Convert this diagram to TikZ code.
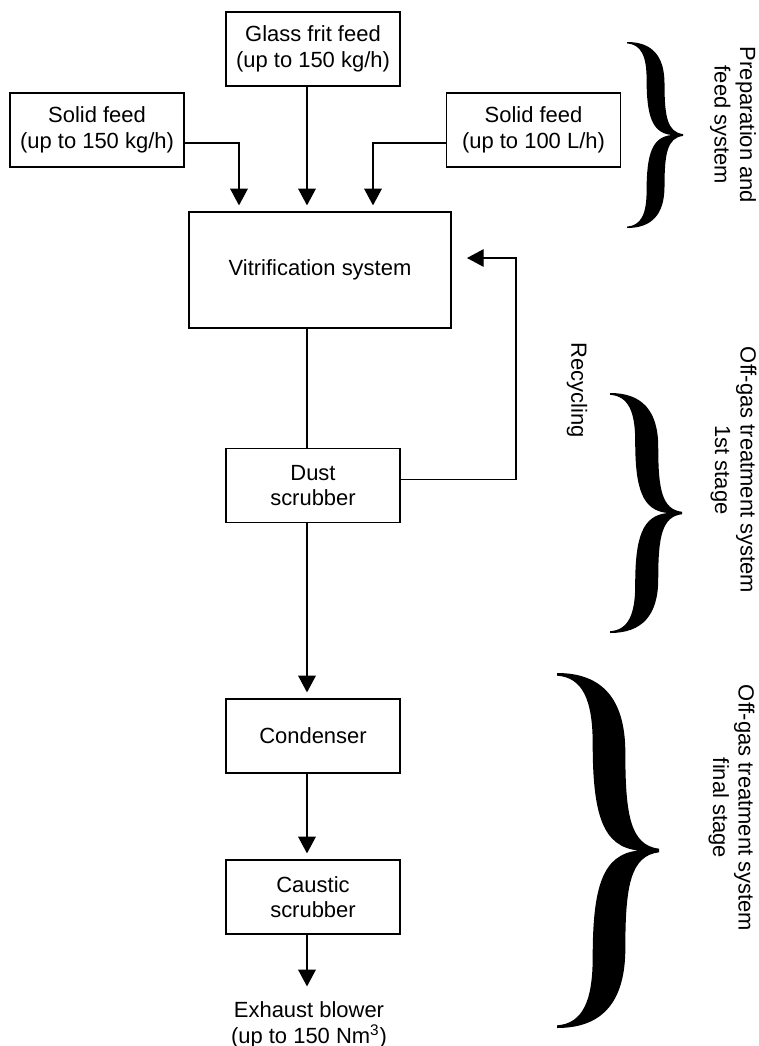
\documentclass[tikz,border=0pt]{standalone}
\usepackage{fontspec}
\setmainfont{Liberation Sans}
\usepackage{tikz}
\usetikzlibrary{arrows.meta}

\begin{document}
\begin{tikzpicture}[
    line width=0.7pt,
    font=\fontsize{12.5}{14.5}\selectfont,
    box/.style={rectangle, draw, minimum width=3.48cm, minimum height=1.48cm, align=center},
    bigbox/.style={rectangle, draw, minimum width=5.24cm, minimum height=2.32cm},
    arr/.style={-{Triangle[width=10pt,length=9.5pt]}, shorten >=0.12cm},
    side/.style={rotate=-90, align=center},
    curly/.pic={
        \fill (0,0) .. controls (0.45,0) and (0.67,-0.15) .. (0.67,-0.45)
            .. controls (0.67,-0.8) and (0.72,-0.97) .. (1,-0.99) -- (1,-1.01)
            .. controls (0.72,-1.03) and (0.67,-1.2) .. (0.67,-1.55)
            .. controls (0.67,-1.85) and (0.45,-2) .. (0,-2) -- (0,-1.985)
            .. controls (0.25,-1.975) and (0.35,-1.85) .. (0.35,-1.6)
            .. controls (0.35,-1.2) and (0.45,-1.02) .. (0.8,-1)
            .. controls (0.45,-0.98) and (0.35,-0.8) .. (0.35,-0.4)
            .. controls (0.35,-0.15) and (0.25,-0.025) .. (0,-0.015) -- cycle;
    }
]
\useasboundingbox (0,0) rectangle (15.18,-20.92);

% Feeds
\node[box] (glass) at (6.26,-0.98) {Glass frit feed\\(up to 150 kg/h)};
\node[box] (solidL) at (1.94,-2.6) {Solid feed\\(up to 150 kg/h)};
\node[box] (solidR) at (10.67,-2.6) {Solid feed\\(up to 100 L/h)};

% Vitrification
\node[bigbox] (vit) at (6.4,-5.4) {Vitrification system};

% Off-gas line
\node[box] (dust) at (6.26,-9.71) {Dust\\scrubber};
\node[box] (cond) at (6.26,-14.72) {Condenser};
\node[box] (caustic) at (6.26,-17.94) {Caustic\\scrubber};
\node[align=center, inner sep=0pt] (exh) at (6.18,-20.5) {Exhaust blower\\(up to 150 Nm\textsuperscript{3})};

% Helper points
\coordinate (col) at (6.14,0);
\coordinate (dropL) at (4.78,0);
\coordinate (dropR) at (7.46,0);
\coordinate (recyc) at (10.32,-5.16);
\coordinate (recycEnd) at (9.34,-5.16);

% Connections
\draw[arr] (glass.south -| col) -- (vit.north -| col);
\draw[arr] ([yshift=-0.26cm]solidL.east) -| (vit.north -| dropL);
\draw[arr] ([yshift=-0.26cm]solidR.west) -| (vit.north -| dropR);
\draw (vit.south -| col) -- (dust.north -| col);
\draw[arr] (dust.south -| col) -- (cond.north -| col);
\draw[arr] (cond.south -| col) -- (caustic.north -| col);
\draw[arr, shorten >=0.3cm] (caustic.south -| col) -- (exh.north -| col);
\draw[arr, shorten >=0pt] ([yshift=0.12cm]dust.east) -| (recyc) -- (recycEnd);
\node[side] (recycling) at (11.54,-7.8) {Recycling};

% Braces
\pic[xscale=1.12, yscale=1.86] at (12.54,-0.84) {curly};
\pic[xscale=1.44, yscale=2.4] at (12.2,-7.86) {curly};
\pic[xscale=2.04, yscale=3.55] at (11.14,-13.46) {curly};

\node[side] (prep) at (14.66,-2.5) {Preparation and\\feed system};
\node[side] (stage1) at (14.67,-9.4) {Off-gas treatment system\\1st stage};
\node[side] (stage2) at (14.63,-16.16) {Off-gas treatment system\\final stage};

\end{tikzpicture}
\end{document}
